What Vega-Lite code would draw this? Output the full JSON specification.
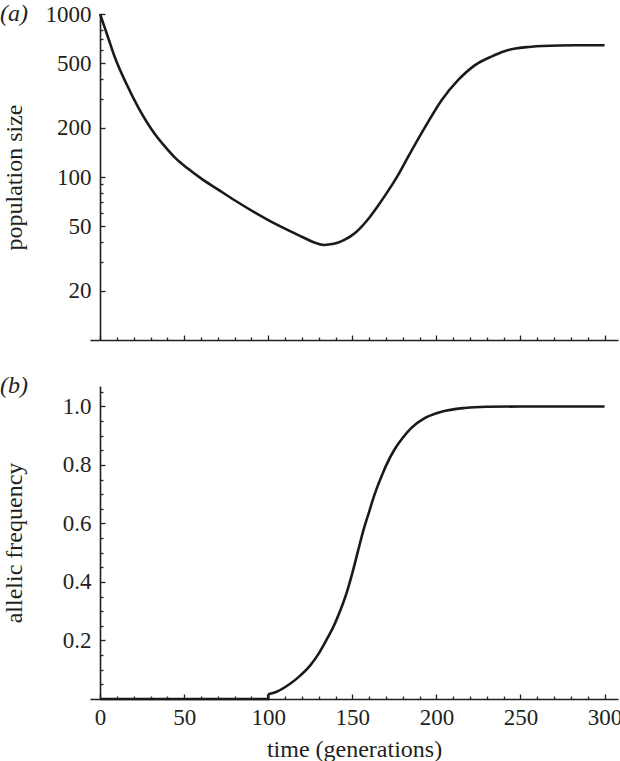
{
  "$schema": "https://vega.github.io/schema/vega-lite/v6.json",
  "padding": {"left": 0, "top": 2, "right": 0, "bottom": 2},
  "spacing": 33,
  "config": {
    "view": {"stroke": null},
    "font": "Liberation Serif",
    "axis": {
      "grid": false,
      "domainColor": "#231f20",
      "domainWidth": 1.6,
      "tickColor": "#231f20",
      "tickWidth": 1.3,
      "labelColor": "#231f20",
      "titleColor": "#231f20",
      "labelFont": "Liberation Serif",
      "titleFont": "Liberation Serif",
      "labelFontSize": 23,
      "titleFontSize": 24,
      "titleFontWeight": "normal"
    },
    "title": {"font": "Liberation Serif", "fontSize": 24, "fontWeight": "normal", "color": "#231f20"}
  },
  "datasets": {
    "pop": [
      {"t": 0, "N": 1000}, {"t": 2, "N": 870}, {"t": 5, "N": 705}, {"t": 9, "N": 535},
      {"t": 15, "N": 385}, {"t": 23, "N": 264}, {"t": 33, "N": 181}, {"t": 39, "N": 152},
      {"t": 45, "N": 130}, {"t": 52, "N": 113}, {"t": 60, "N": 98}, {"t": 70, "N": 84},
      {"t": 80, "N": 72}, {"t": 100, "N": 54.4}, {"t": 120, "N": 43},
      {"t": 127, "N": 39.8}, {"t": 133, "N": 38.3}, {"t": 139, "N": 38.9}, {"t": 145, "N": 41},
      {"t": 152, "N": 45.7}, {"t": 159, "N": 54.5}, {"t": 165, "N": 66}, {"t": 171, "N": 81.3},
      {"t": 177, "N": 102}, {"t": 183, "N": 132}, {"t": 193, "N": 200}, {"t": 203, "N": 295},
      {"t": 213, "N": 394}, {"t": 223, "N": 486}, {"t": 233, "N": 550}, {"t": 240, "N": 589},
      {"t": 247, "N": 614}, {"t": 255, "N": 628}, {"t": 263, "N": 637}, {"t": 283, "N": 643},
      {"t": 300, "N": 643}
    ],
    "freq": [
      {"t": 0, "p": 0, "seg": "a"}, {"t": 100, "p": 0, "seg": "a"}, {"t": 100, "p": 0.016, "seg": "a"},
      {"t": 100, "p": 0.016, "seg": "b"}, {"t": 105, "p": 0.025, "seg": "b"}, {"t": 113, "p": 0.052, "seg": "b"},
      {"t": 119, "p": 0.08, "seg": "b"}, {"t": 125, "p": 0.115, "seg": "b"}, {"t": 130, "p": 0.155, "seg": "b"},
      {"t": 135, "p": 0.206, "seg": "b"}, {"t": 139, "p": 0.25, "seg": "b"}, {"t": 143, "p": 0.305, "seg": "b"},
      {"t": 147, "p": 0.37, "seg": "b"}, {"t": 150, "p": 0.43, "seg": "b"}, {"t": 154, "p": 0.52, "seg": "b"},
      {"t": 157, "p": 0.585, "seg": "b"}, {"t": 160, "p": 0.64, "seg": "b"}, {"t": 163, "p": 0.695, "seg": "b"},
      {"t": 165, "p": 0.727, "seg": "b"}, {"t": 168, "p": 0.77, "seg": "b"}, {"t": 170, "p": 0.797, "seg": "b"},
      {"t": 175, "p": 0.852, "seg": "b"}, {"t": 180, "p": 0.893, "seg": "b"},
      {"t": 185, "p": 0.926, "seg": "b"}, {"t": 193, "p": 0.96, "seg": "b"}, {"t": 203, "p": 0.982, "seg": "b"},
      {"t": 217, "p": 0.995, "seg": "b"}, {"t": 230, "p": 0.999, "seg": "b"}, {"t": 250, "p": 1.0, "seg": "b"},
      {"t": 300, "p": 1.0, "seg": "b"}
    ]
  },
  "vconcat": [
    {
      "width": 528,
      "height": 326,
      "title": {"text": "(a)", "anchor": "start", "frame": "group", "dx": -90, "dy": 23, "offset": 0, "fontStyle": "italic"},
      "data": {"name": "pop"},
      "layer": [
        {
          "mark": {"type": "line", "interpolate": "monotone", "color": "#1a1a1a", "strokeWidth": 2.6},
          "encoding": {
            "x": {"field": "t", "type": "quantitative",
              "scale": {"domain": [-6, 308], "nice": false, "zero": false},
              "axis": {"orient": "bottom", "values": [0, 50, 100, 150, 200, 250, 300], "labels": false, "title": null, "tickSize": -5}},
            "y": {"field": "N", "type": "quantitative",
              "scale": {"type": "log", "domain": [10, 1000], "nice": false},
              "axis": {"orient": "left", "values": [20, 50, 100, 200, 500, 1000], "format": "d", "tickSize": -5, "labelPadding": 14, "offset": -10, "title": "population size", "titleX": -74}}
          }
        },
        {
          "mark": {"type": "line", "opacity": 0},
          "encoding": {
            "x": {"field": "t", "type": "quantitative",
              "axis": {"orient": "bottom", "values": [10, 20, 30, 40, 60, 70, 80, 90, 110, 120, 130, 140, 160, 170, 180, 190, 210, 220, 230, 240, 260, 270, 280, 290], "labels": false, "title": null, "domain": false, "tickSize": -3}},
            "y": {"field": "N", "type": "quantitative",
              "axis": {"orient": "left", "values": [30, 40, 60, 70, 80, 90, 300, 400, 600, 700, 800, 900], "labels": false, "title": null, "domain": false, "tickSize": -3, "offset": -10}}
          }
        }
      ],
      "resolve": {"axis": {"x": "independent", "y": "independent"}}
    },
    {
      "width": 528,
      "height": 313,
      "title": {"text": "(b)", "anchor": "start", "frame": "group", "dx": -90, "dy": 12, "offset": 0, "fontStyle": "italic"},
      "data": {"name": "freq"},
      "layer": [
        {
          "transform": [{"filter": "datum.seg === 'a'"}],
          "mark": {"type": "line", "interpolate": "linear", "color": "#1a1a1a", "strokeWidth": 2.6},
          "encoding": {
            "x": {"field": "t", "type": "quantitative",
              "scale": {"domain": [-6, 308], "nice": false, "zero": false},
              "axis": {"orient": "bottom", "values": [0, 50, 100, 150, 200, 250, 300], "tickSize": -5, "labelPadding": 12, "title": "time (generations)", "titlePadding": 8}},
            "y": {"field": "p", "type": "quantitative",
              "scale": {"domain": [0, 1.07], "nice": false, "zero": false},
              "axis": {"orient": "left", "values": [0.2, 0.4, 0.6, 0.8, 1.0], "format": ".1f", "tickSize": -5, "labelPadding": 14, "offset": -10, "title": "allelic frequency", "titleX": -74}}
          }
        },
        {
          "transform": [{"filter": "datum.seg === 'b'"}],
          "mark": {"type": "line", "interpolate": "monotone", "color": "#1a1a1a", "strokeWidth": 2.6},
          "encoding": {
            "x": {"field": "t", "type": "quantitative",
              "axis": {"orient": "bottom", "values": [10, 20, 30, 40, 60, 70, 80, 90, 110, 120, 130, 140, 160, 170, 180, 190, 210, 220, 230, 240, 260, 270, 280, 290], "labels": false, "title": null, "domain": false, "tickSize": -3}},
            "y": {"field": "p", "type": "quantitative",
              "axis": {"orient": "left", "values": [0.05, 0.1, 0.15, 0.25, 0.3, 0.35, 0.45, 0.5, 0.55, 0.65, 0.7, 0.75, 0.85, 0.9, 0.95, 1.05], "labels": false, "title": null, "domain": false, "tickSize": -3, "offset": -10}}
          }
        }
      ],
      "resolve": {"axis": {"x": "independent", "y": "independent"}}
    }
  ]
}
